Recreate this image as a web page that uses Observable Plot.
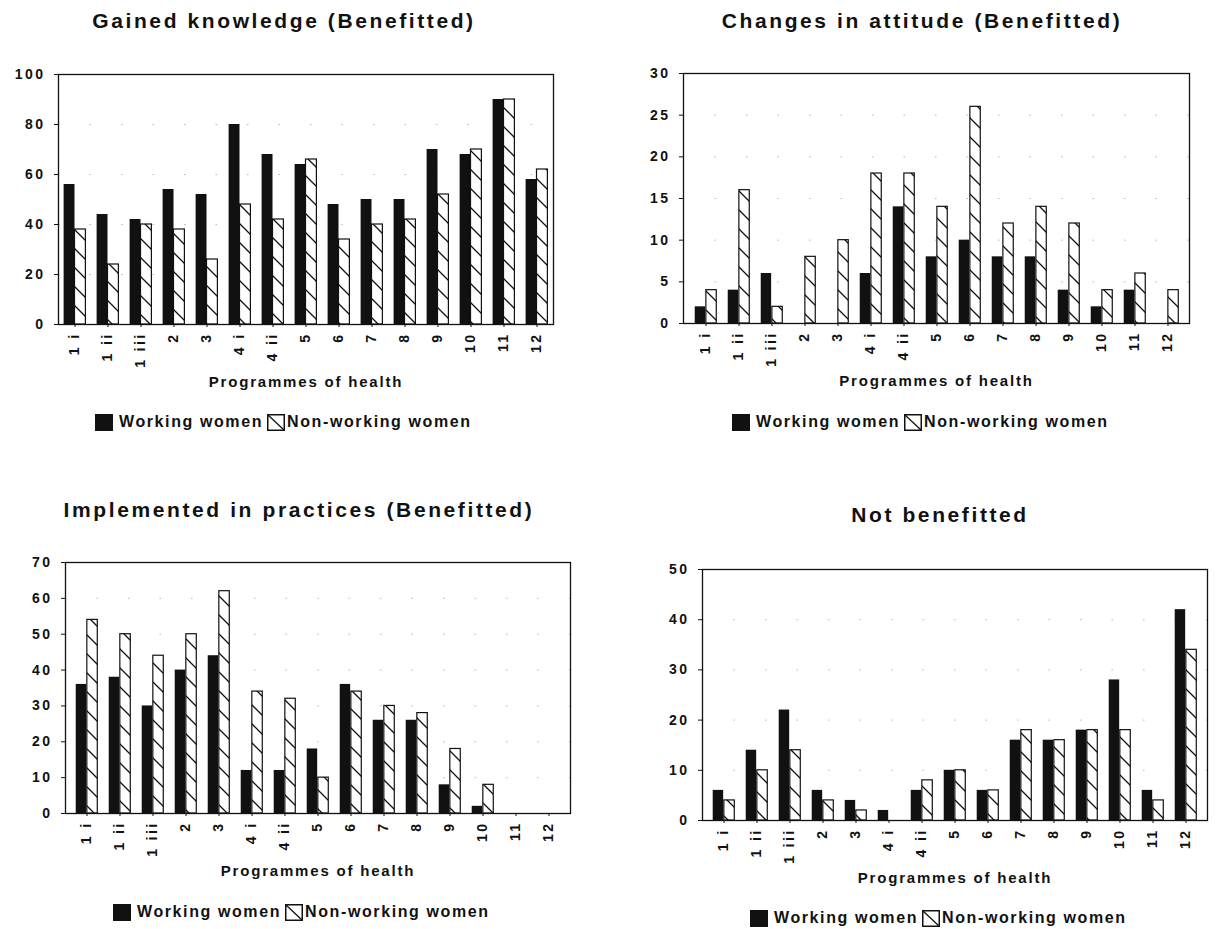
<!DOCTYPE html>
<html>
<head>
<meta charset="utf-8">
<script src="https://cdn.jsdelivr.net/npm/d3@7"></script>
<script src="https://cdn.jsdelivr.net/npm/@observablehq/plot@0.6"></script>
<style>
  body { margin: 0; background: #fff; }
  #root { position: relative; width: 1216px; height: 929px; overflow: hidden;
          font-family: "Liberation Sans", Arial, Helvetica, sans-serif; color: #111; }
  .title { position: absolute; font-weight: bold; font-size: 21px; line-height: 21px;
           letter-spacing: 2.6px; white-space: nowrap; transform: translateX(-50%); }
  .chart { position: absolute; }
  .chart svg { overflow: visible; }
  .chart g[aria-label="y-axis tick label"] text { letter-spacing: 2.5px; }
  .chart g[aria-label="x-axis tick label"] text { letter-spacing: 2.4px; }
  .chart g[aria-label="text"] text { letter-spacing: 1.8px; }
  .legend { position: absolute; display: flex; align-items: center; height: 18px;
            font-weight: bold; font-size: 16px; letter-spacing: 1.6px; white-space: nowrap; }
  .legend svg { display: block; flex: none; }
</style>
</head>
<body>
<svg style="position:absolute;width:0;height:0" aria-hidden="true">
  <defs>
    <pattern id="hatch" patternUnits="userSpaceOnUse" width="19" height="19">
      <rect width="19" height="19" fill="#fff"/>
      <path d="M0,0L19,19M-5,14L5,24M14,-5L24,5" stroke="#111" stroke-width="1.3"/>
    </pattern>
  </defs>
</svg>
<div id="root"></div>
<script>
// ---------- data ----------
const programmes = ["1 i", "1 ii", "1 iii", "2", "3", "4 i", "4 ii", "5", "6", "7", "8", "9", "10", "11", "12"];
const seriesNames = ["Working women", "Non-working women"];
const xLabel = "Programmes of health";
const titles = [
  "Gained knowledge (Benefitted)",
  "Changes in attitude (Benefitted)",
  "Implemented in practices (Benefitted)",
  "Not benefitted"
];

const knowledgeWorking    = [56, 44, 42, 54, 52, 80, 68, 64, 48, 50, 50, 70, 68, 90, 58];
const knowledgeNonWorking = [38, 24, 40, 38, 26, 48, 42, 66, 34, 40, 42, 52, 70, 90, 62];
const knowledgeTicks = [0, 20, 40, 60, 80, 100];

const attitudeWorking    = [2, 4, 6, 0, 0, 6, 14, 8, 10, 8, 8, 4, 2, 4, 0];
const attitudeNonWorking = [4, 16, 2, 8, 10, 18, 18, 14, 26, 12, 14, 12, 4, 6, 4];
const attitudeTicks = [0, 5, 10, 15, 20, 25, 30];

const practiceWorking    = [36, 38, 30, 40, 44, 12, 12, 18, 36, 26, 26, 8, 2, 0, 0];
const practiceNonWorking = [54, 50, 44, 50, 62, 34, 32, 10, 34, 30, 28, 18, 8, 0, 0];
const practiceTicks = [0, 10, 20, 30, 40, 50, 60, 70];

const notBenefitWorking    = [6, 14, 22, 6, 4, 2, 6, 10, 6, 16, 16, 18, 28, 6, 42];
const notBenefitNonWorking = [4, 10, 14, 4, 2, 0, 8, 10, 6, 18, 16, 18, 18, 4, 34];
const notBenefitTicks = [0, 10, 20, 30, 40, 50];

// ---------- layout ----------
const FONT = '"Liberation Sans", Arial, Helvetica, sans-serif';
const panels = [
  { title: titles[0], working: knowledgeWorking, non: knowledgeNonWorking, ticks: knowledgeTicks,
    svg: {left: 0, top: 60, width: 600, height: 340}, frame: {L: 58, R: 553, T: 74, B: 324},
    titleX: 284, titleTop: 10, legendLeft: 95, legendY: 422 },
  { title: titles[1], working: attitudeWorking, non: attitudeNonWorking, ticks: attitudeTicks,
    svg: {left: 608, top: 60, width: 608, height: 340}, frame: {L: 683, R: 1189, T: 73, B: 323},
    titleX: 922, titleTop: 10, legendLeft: 732, legendY: 422 },
  { title: titles[2], working: practiceWorking, non: practiceNonWorking, ticks: practiceTicks,
    svg: {left: 0, top: 548, width: 600, height: 340}, frame: {L: 65, R: 570, T: 562, B: 813},
    titleX: 299, titleTop: 499, legendLeft: 113, legendY: 912 },
  { title: titles[3], working: notBenefitWorking, non: notBenefitNonWorking, ticks: notBenefitTicks,
    svg: {left: 608, top: 548, width: 608, height: 345}, frame: {L: 702, R: 1207, T: 569, B: 820},
    titleX: 940, titleTop: 504, legendLeft: 750, legendY: 918 }
];

const root = document.getElementById("root");

for (const p of panels) {
  // title
  const t = document.createElement("div");
  t.className = "title";
  t.textContent = p.title;
  t.style.left = p.titleX + "px";
  t.style.top = p.titleTop + "px";
  root.appendChild(t);

  const b = (p.frame.R - p.frame.L) / programmes.length;
  const rows = programmes.map((k, i) => ({programme: k, working: p.working[i], non: p.non[i]}));
  const chart = Plot.plot({
    width: p.svg.width,
    height: p.svg.height,
    marginLeft: p.frame.L - p.svg.left,
    marginRight: p.svg.left + p.svg.width - p.frame.R,
    marginTop: p.frame.T - p.svg.top,
    marginBottom: p.svg.top + p.svg.height - p.frame.B,
    x: {type: "band", domain: programmes, padding: 0},
    y: {domain: [p.ticks[0], p.ticks[p.ticks.length - 1]]},
    style: {fontFamily: FONT, fontSize: "13px", fontWeight: "bold", color: "#111", background: "transparent"},
    marks: [
      Plot.gridY({ticks: p.ticks, stroke: "#888", strokeOpacity: 0.6, strokeDasharray: "1.5,30"}),
      Plot.barY(rows, {x: "programme", y: "working", fill: "#111", insetLeft: 0.17 * b, insetRight: 0.5 * b}),
      Plot.barY(rows, {x: "programme", y: "non", fill: "url(#hatch)", stroke: "#111", strokeWidth: 1.2,
                       insetLeft: 0.5 * b, insetRight: 0.17 * b}),
      Plot.frame({stroke: "#111", strokeWidth: 1.3}),
      Plot.axisY({ticks: p.ticks, tickSize: 4, tickPadding: 9, fontSize: 14, label: null}),
      Plot.axisX({tickSize: 3, tickPadding: 5, tickRotate: -90, fontSize: 14, label: null}),
      Plot.text([xLabel], {text: d => d, frameAnchor: "bottom", dy: 62, lineAnchor: "bottom",
                           fontSize: 15, fontWeight: "bold"})
    ]
  });
  const holder = document.createElement("div");
  holder.className = "chart";
  holder.style.left = p.svg.left + "px";
  holder.style.top = p.svg.top + "px";
  holder.style.width = p.svg.width + "px";
  holder.style.height = p.svg.height + "px";
  holder.appendChild(chart);
  root.appendChild(holder);

  // legend
  const lg = document.createElement("div");
  lg.className = "legend";
  lg.style.left = p.legendLeft + "px";
  lg.style.top = (p.legendY - 9) + "px";
  lg.innerHTML =
    '<svg width="18" height="17"><rect width="18" height="17" fill="#111"/></svg>' +
    '<span style="margin-left:6px">' + seriesNames[0] + '</span>' +
    '<svg width="18" height="17" style="margin-left:4px"><rect x="0.75" y="0.75" width="16.5" height="15.5" fill="#fff" stroke="#111" stroke-width="1.5"/><path d="M1,1L17,16" stroke="#111" stroke-width="1.3"/></svg>' +
    '<span style="margin-left:2px">' + seriesNames[1] + '</span>';
  root.appendChild(lg);
}
</script>
</body>
</html>
